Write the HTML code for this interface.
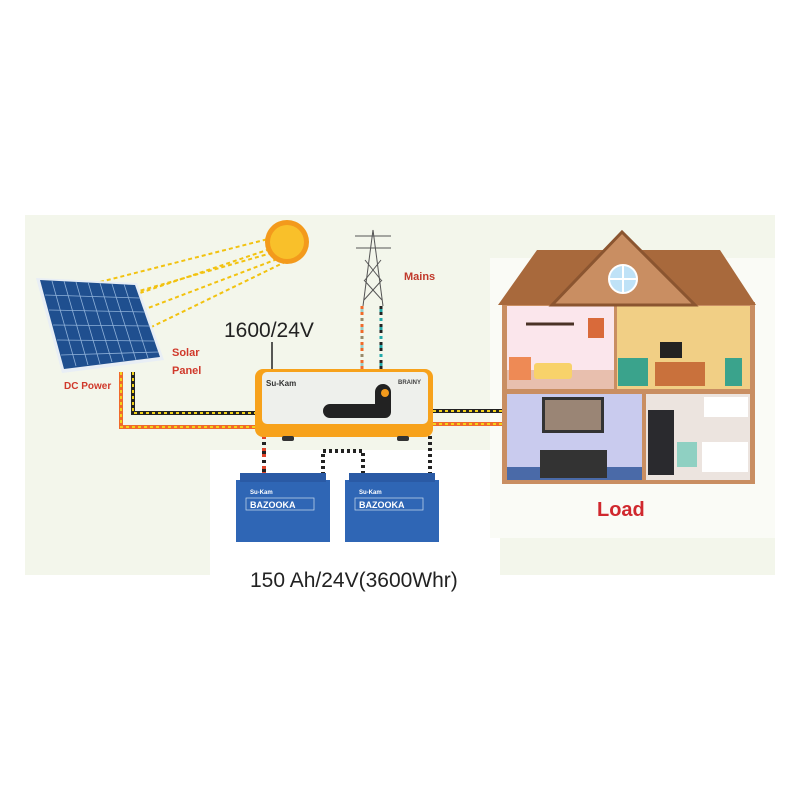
<!DOCTYPE html>
<html><head><meta charset="utf-8"><style>
html,body{margin:0;padding:0;background:#fff;}
svg{display:block;font-family:"Liberation Sans",sans-serif;}
</style></head><body>
<svg width="800" height="800" viewBox="0 0 800 800" xmlns="http://www.w3.org/2000/svg">
<rect x="0" y="0" width="800" height="800" fill="#fff"/>
<rect x="25" y="215" width="750" height="360" fill="#f3f6eb"/>
<rect x="210" y="450" width="290" height="150" fill="#fff"/>
<rect x="490" y="258" width="285" height="280" fill="#fafbf6"/>
<!-- sun rays -->
<g stroke="#f2c20f" stroke-width="2" stroke-dasharray="4,3" fill="none">
<line x1="100" y1="282" x2="272" y2="238"/>
<line x1="140" y1="293" x2="273" y2="248"/>
<line x1="80" y1="308" x2="275" y2="252"/>
<line x1="90" y1="330" x2="280" y2="258"/>
<line x1="100" y1="352" x2="285" y2="262"/>
</g>
<!-- sun -->
<circle cx="287" cy="242" r="22" fill="#f39a1c"/>
<circle cx="287" cy="242" r="17" fill="#f9c02a"/>
<!-- panel -->
<polygon points="36,278 137,283 164,360 62,373" fill="#e8eef5"/>
<polygon points="40,280 135,285 160,357 64,369" fill="#1f4f8f"/>
<g stroke="#8fb1d9" stroke-width="0.8">
<line x1="52" y1="281" x2="76" y2="366"/><line x1="64" y1="281" x2="88" y2="365"/><line x1="76" y1="282" x2="100" y2="364"/><line x1="88" y1="282" x2="112" y2="362"/><line x1="100" y1="283" x2="124" y2="361"/><line x1="112" y1="284" x2="136" y2="360"/><line x1="124" y1="284" x2="148" y2="358"/>
<line x1="45" y1="295" x2="140" y2="298"/><line x1="49" y1="310" x2="145" y2="312"/><line x1="53" y1="325" x2="150" y2="326"/><line x1="57" y1="340" x2="155" y2="341"/><line x1="61" y1="355" x2="158" y2="352"/>
</g>
<!-- tower -->
<g stroke="#555" stroke-width="1" fill="none">
<line x1="373" y1="230" x2="363" y2="306"/><line x1="373" y1="230" x2="383" y2="306"/>
<line x1="355" y1="236" x2="391" y2="236"/><line x1="356" y1="248" x2="391" y2="248"/>
<line x1="365" y1="260" x2="381" y2="280"/><line x1="381" y1="260" x2="365" y2="280"/>
<line x1="364" y1="280" x2="382" y2="300"/><line x1="382" y1="280" x2="364" y2="300"/>
</g>
<line x1="362" y1="306" x2="362" y2="370" stroke="#f06a2a" stroke-width="3" stroke-dasharray="3,3"/>
<line x1="362" y1="309" x2="362" y2="370" stroke="#4aa" stroke-width="3" stroke-dasharray="3,6" opacity="0.5"/>
<line x1="381" y1="306" x2="381" y2="370" stroke="#222" stroke-width="3" stroke-dasharray="3,3"/>
<line x1="381" y1="309" x2="381" y2="370" stroke="#2aa" stroke-width="3" stroke-dasharray="3,6"/>
<text x="404" y="280" font-size="11" font-weight="bold" fill="#c0392b">Mains</text>
<!-- wires panel->inverter -->
<polyline points="133,372 133,413 256,413" fill="none" stroke="#222" stroke-width="4"/>
<polyline points="133,372 133,413 256,413" fill="none" stroke="#f2d21a" stroke-width="2" stroke-dasharray="3,3"/>
<polyline points="121,372 121,427 256,427" fill="none" stroke="#f06a2a" stroke-width="4"/>
<polyline points="121,372 121,427 256,427" fill="none" stroke="#f2d21a" stroke-width="2" stroke-dasharray="3,3"/>
<!-- wires inverter->house -->
<line x1="433" y1="411" x2="503" y2="411" stroke="#222" stroke-width="4"/>
<line x1="433" y1="411" x2="503" y2="411" stroke="#f2d21a" stroke-width="2" stroke-dasharray="3,3"/>
<line x1="433" y1="424" x2="503" y2="424" stroke="#f06a2a" stroke-width="4"/>
<line x1="433" y1="424" x2="503" y2="424" stroke="#f2d21a" stroke-width="2" stroke-dasharray="3,3"/>
<text x="64" y="389" font-size="10" font-weight="bold" fill="#d0392b">DC Power</text>
<text x="172" y="356" font-size="11" font-weight="bold" fill="#d0392b">Solar</text>
<text x="172" y="374" font-size="11" font-weight="bold" fill="#d0392b">Panel</text>
<text x="224" y="337" font-size="21" fill="#222">1600/24V</text>
<line x1="272" y1="342" x2="272" y2="370" stroke="#222" stroke-width="1.5"/>
<!-- battery wires -->
<line x1="264" y1="436" x2="264" y2="475" stroke="#e0442a" stroke-width="4" stroke-dasharray="3,3"/>
<line x1="264" y1="436" x2="264" y2="475" stroke="#222" stroke-width="4" stroke-dasharray="3,6" stroke-dashoffset="3"/>
<line x1="430" y1="436" x2="430" y2="475" stroke="#222" stroke-width="4" stroke-dasharray="3,3"/>
<polyline points="323,475 323,451 363,451 363,475" fill="none" stroke="#222" stroke-width="4" stroke-dasharray="3,3"/>
<!-- inverter -->
<rect x="255" y="369" width="178" height="68" rx="8" fill="#f7a21b"/>
<rect x="262" y="372" width="166" height="52" rx="5" fill="#eef0ec"/>
<text x="266" y="386" font-size="8" font-weight="bold" fill="#333">Su-Kam</text>
<text x="398" y="384" font-size="6" font-weight="bold" fill="#444">BRAINY</text>
<path d="M330,404 h45 v-12 a8,8 0 0 1 16,0 v20 a6,6 0 0 1 -6,6 h-55 a5,5 0 0 1 0,-14z" fill="#222"/>
<circle cx="385" cy="393" r="4" fill="#f39a1c"/>
<rect x="282" y="436" width="12" height="5" rx="2" fill="#333"/>
<rect x="397" y="436" width="12" height="5" rx="2" fill="#333"/>
<!-- batteries -->
<g>
<rect x="236" y="480" width="94" height="62" fill="#2f66b5"/>
<rect x="240" y="473" width="86" height="9" fill="#2a5aa5"/>
<text x="250" y="494" font-size="6" font-weight="bold" fill="#fff">Su-Kam</text>
<rect x="246" y="498" width="68" height="12" fill="none" stroke="#cde" stroke-width="0.7"/>
<text x="250" y="508" font-size="9" font-weight="bold" fill="#fff">BAZOOKA</text>
<rect x="345" y="480" width="94" height="62" fill="#2f66b5"/>
<rect x="349" y="473" width="86" height="9" fill="#2a5aa5"/>
<text x="359" y="494" font-size="6" font-weight="bold" fill="#fff">Su-Kam</text>
<rect x="355" y="498" width="68" height="12" fill="none" stroke="#cde" stroke-width="0.7"/>
<text x="359" y="508" font-size="9" font-weight="bold" fill="#fff">BAZOOKA</text>
</g>
<text x="250" y="587" font-size="21" fill="#222">150 Ah/24V(3600Whr)</text>
<!-- house -->
<rect x="502" y="302" width="253" height="182" fill="#c98e62"/>
<rect x="507" y="306" width="107" height="83" fill="#fbe6ec"/>
<rect x="507" y="370" width="107" height="19" fill="#e8bfae"/>
<rect x="617" y="306" width="133" height="83" fill="#f1cf85"/>
<rect x="507" y="394" width="135" height="86" fill="#c9cbee"/>
<rect x="507" y="467" width="135" height="13" fill="#4a6aa8"/>
<rect x="646" y="394" width="104" height="86" fill="#ece4df"/>
<polygon points="498,305 537,250 720,250 756,305" fill="#a8693c"/>
<polygon points="552,305 622,232 695,305" fill="#c98e62" stroke="#8b5530" stroke-width="3"/>
<circle cx="623" cy="279" r="14" fill="#bfe2f7" stroke="#fff" stroke-width="2"/>
<line x1="623" y1="265" x2="623" y2="293" stroke="#fff" stroke-width="2"/>
<line x1="609" y1="279" x2="637" y2="279" stroke="#fff" stroke-width="2"/>
<!-- furniture -->
<rect x="534" y="363" width="38" height="16" rx="3" fill="#f8d26a"/>
<rect x="509" y="357" width="22" height="23" fill="#ee8a55"/>
<rect x="588" y="318" width="16" height="20" fill="#d96a3a"/>
<line x1="526" y1="324" x2="574" y2="324" stroke="#4a3226" stroke-width="3"/>
<rect x="618" y="358" width="30" height="28" fill="#3aa38c"/>
<rect x="655" y="362" width="50" height="24" fill="#c9713c"/>
<rect x="660" y="342" width="22" height="16" fill="#222"/>
<rect x="725" y="358" width="17" height="28" fill="#3aa38c"/>
<rect x="542" y="397" width="62" height="36" fill="#333"/>
<rect x="545" y="400" width="56" height="30" fill="#9a8575"/>
<rect x="540" y="450" width="67" height="28" fill="#333"/>
<rect x="648" y="410" width="26" height="65" fill="#2a2a2e"/>
<rect x="677" y="442" width="20" height="25" fill="#8fd0c2"/>
<rect x="702" y="442" width="46" height="30" fill="#fff"/>
<rect x="704" y="397" width="44" height="20" fill="#fff"/>
<text x="597" y="516" font-size="20" font-weight="bold" fill="#d0282e">Load</text>
</svg>
</body></html>
